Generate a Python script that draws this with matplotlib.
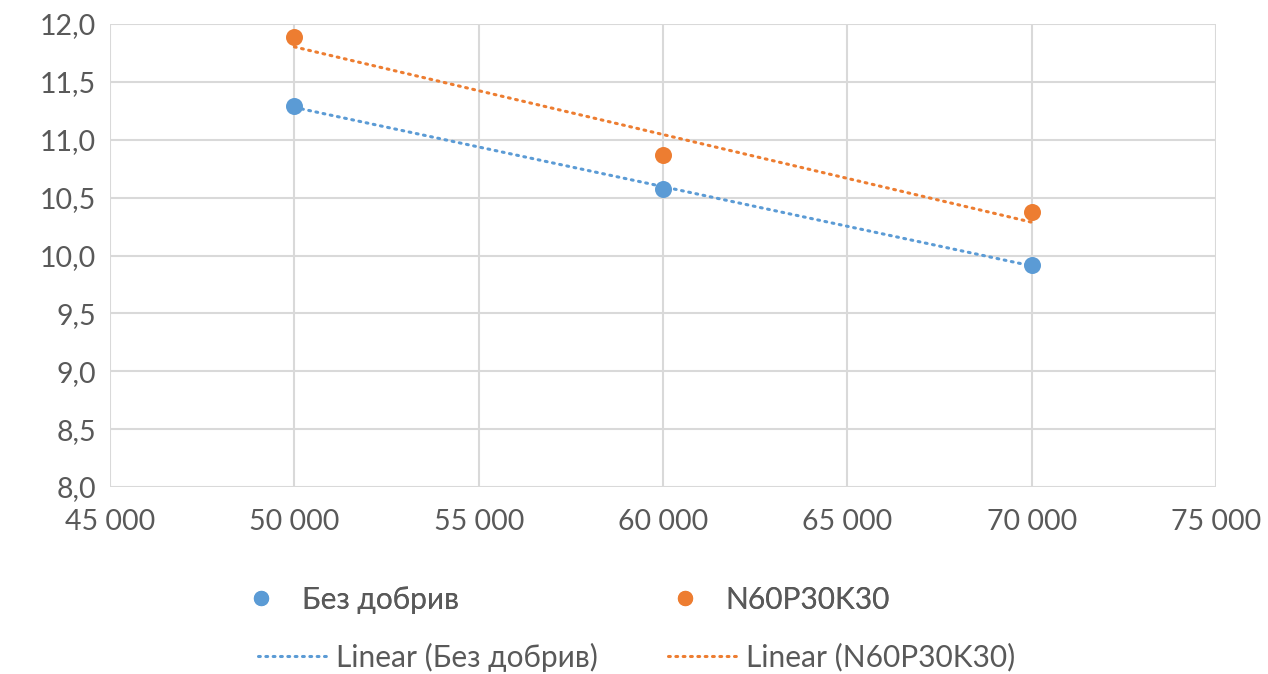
import numpy as np
import matplotlib
matplotlib.use("Agg")
import matplotlib.pyplot as plt
from matplotlib.lines import Line2D

plt.rcParams['font.family'] = ['Lato', 'DejaVu Sans']

# plant density vs. value, two fertiliser variants
density = [50000, 60000, 70000]
no_fert = [11.29, 10.575, 9.92]
npk = [11.89, 10.87, 10.375]
names = ["Без добрив", "N60P30K30"]
colors = ["#5B9BD5", "#ED7D31"]

fig = plt.figure(figsize=(12.68, 6.74), dpi=100)
ax = fig.add_axes([0.0868, 0.2774, 0.8722, 0.687])

for ys, c in zip([no_fert, npk], colors):
    x = np.array(density, dtype=float)
    y = np.array(ys)
    k, b = np.polyfit(x, y, 1)
    ax.plot(x, k * x + b, color=c, lw=2.2, linestyle=(0, (0.6, 1.8)),
            dash_capstyle='round', zorder=2)
    ax.scatter(x, y, s=150, color=c, zorder=3, linewidths=0)

ax.set_xlim(45000, 75000)
ax.set_ylim(8.0, 12.0)
ax.set_xticks(np.arange(45000, 75001, 5000))
ax.set_yticks(np.arange(8.0, 12.01, 0.5))
ax.set_xticklabels([f"{int(v):,}".replace(",", " ") for v in ax.get_xticks()])
ax.set_yticklabels([f"{v:.1f}".replace(".", ",") for v in ax.get_yticks()])
ax.grid(True, color="#D9D9D9", lw=1.5)
ax.set_axisbelow(True)
for s in ax.spines.values():
    s.set_visible(False)
ax.tick_params(length=0, labelsize=20.5, colors="#595959", pad=10)
ax.tick_params(axis='x', pad=16)

# legend: markers row and trendline row
mk = [Line2D([], [], ls='none', marker='o', ms=11, color=c, mec='none') for c in colors]
ln = [Line2D([], [], lw=2.2, ls=(0, (0.6, 1.8)), dash_capstyle='round', color=c) for c in colors]
leg1 = fig.legend(mk, names, ncol=2, frameon=False, loc='center', bbox_to_anchor=(0.442, 0.11),
                  fontsize=21.5, labelcolor="#595959", handlelength=2.0, handletextpad=0.35,
                  columnspacing=6.57)
leg2 = fig.legend(ln, [f"Linear ({n})" for n in names], ncol=2, frameon=False, loc='center',
                  bbox_to_anchor=(0.502, 0.025), fontsize=21.5, labelcolor="#595959",
                  handlelength=2.45, handletextpad=0.15, columnspacing=2.37)
fig.add_artist(leg1)

fig.savefig("out.png", dpi=100)
